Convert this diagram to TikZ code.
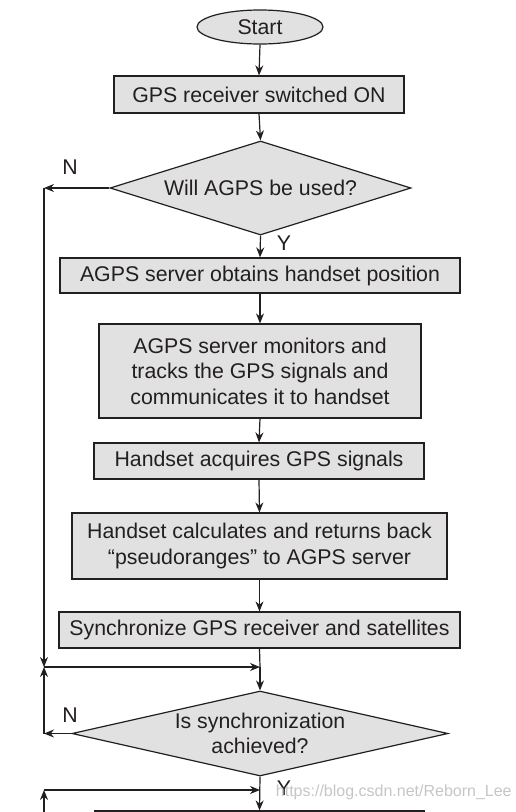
\documentclass[tikz,border=0pt]{standalone}
\usepackage{fontspec}
\setmainfont{Liberation Sans}
\usetikzlibrary{shapes.geometric,arrows.meta}
\definecolor{ink}{HTML}{231F20}
\definecolor{boxfill}{HTML}{E1E1E1}
\begin{document}
\begin{tikzpicture}[x=1pt,y=-1pt,
  font=\fontsize{21.3}{25.5}\selectfont,
  line width=1.2pt,
  >={Stealth[length=10pt,width=8pt]},
  box/.style={draw=ink, fill=boxfill, text=ink, align=center, inner sep=0pt},
  dec/.style={diamond, draw=ink, fill=boxfill, text=ink, align=center, inner sep=0pt},
  conn/.style={draw=ink, ->},
  plain/.style={draw=ink},
  lbl/.style={text=ink, inner sep=0pt}]
\clip (0,0) rectangle (515,812);
\fill[white] (0,0) rectangle (515,812);

\node[box, ellipse, minimum width=126pt, minimum height=34pt] (start) at (260,27) {Start};
\node[box, minimum width=290pt, minimum height=37pt] (b1) at (259,94.5) {GPS receiver switched ON};
\node[dec, aspect=3.2, minimum width=301pt, minimum height=94pt] (d1) at (260.5,188) {Will AGPS be used?};
\node[box, minimum width=400pt, minimum height=35pt] (b2) at (260,275.5) {AGPS server obtains handset position};
\node[box, minimum width=322pt, minimum height=94pt] (b3) at (260,371) {AGPS server monitors and\\tracks the GPS signals and\\communicates it to handset};
\node[box, minimum width=330pt, minimum height=36pt] (b4) at (259,461) {Handset acquires GPS signals};
\node[box, minimum width=375pt, minimum height=66pt] (b5) at (259.5,546) {Handset calculates and returns back\\“pseudoranges” to AGPS server};
\node[box, minimum width=401pt, minimum height=36pt] (b6) at (259.5,630) {Synchronize GPS receiver and satellites};
\node[dec, aspect=4.42, minimum width=376pt, minimum height=85pt] (d2) at (260,733.5) {Is synchronization\\achieved?};
\node[box, minimum width=329pt, minimum height=40pt] (b7) at (259.5,831) {};

\coordinate (c1) at (44,188);
\coordinate (j1) at (44,667);
\coordinate (m1) at (260,667);
\coordinate (c2) at (44,733.5);
\coordinate (j2) at (44,790);
\coordinate (m2) at (260,790);
\coordinate (bot) at (44,830);

\node[lbl] (n1) at (70,167) {N};
\node[lbl] (y1) at (284,243) {Y};
\node[lbl] (n2) at (70,715) {N};
\node[lbl] (y2) at (284,788) {Y};

\draw[conn] (start.south) -- (b1.north);
\draw[conn] (b1.south) -- (d1.north);
\draw[conn] (d1.south) -- (b2.north);
\draw[conn] (b2.south) -- (b3.north);
\draw[conn] (b3.south) -- (b4.north);
\draw[conn] (b4.south) -- (b5.north);
\draw[conn] (b5.south) -- (b6.north);
\draw[conn] (d1.west) -- (c1);
\draw[conn] (c1) -- (j1);
\draw[plain] (b6.south) -- (m1);
\draw[conn] (j1) -- (m1);
\draw[conn] (m1) -- (d2.north);
\draw[conn] (d2.west) -- (c2);
\draw[conn] (c2) -- (j1);
\draw[conn] (d2.south) -- (b7.north);
\draw[conn] (bot) -- (j2);
\draw[conn] (j2) -- (m2);

\node[text=gray!45, font=\fontsize{16}{18}\selectfont, anchor=west] (wm) at (272,792) {https://blog.csdn.net/Reborn\_Lee};
\end{tikzpicture}
\end{document}
